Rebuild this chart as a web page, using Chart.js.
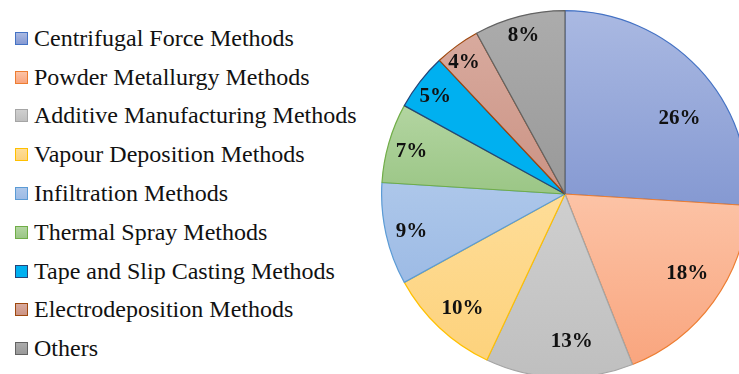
<!DOCTYPE html>
<html>
<head>
<meta charset="utf-8">
<script src="https://cdn.jsdelivr.net/npm/chart.js@4"></script>
<style>
  html, body { margin: 0; padding: 0; background: #fff; }
  body { width: 739px; height: 374px; overflow: hidden; position: relative; }
  #legend { position: absolute; left: 15px; top: 19px; font-family: "Liberation Serif", "Times New Roman", serif; font-size: 24px; color: #111; }
  #legend .row { display: flex; align-items: center; height: 38.8px; white-space: nowrap; }
  #legend .box { width: 11px; height: 11px; margin-right: 6px; border: 1px solid; }
  #pieWrap { position: absolute; left: 381px; top: 10px; width: 368px; height: 368px; }
</style>
</head>
<body>
<div id="legend"></div>
<div id="pieWrap"><canvas id="pie" width="368" height="368"></canvas></div>
<script>
// Share of fabrication methods (%)
const labels = [
  "Centrifugal Force Methods",
  "Powder Metallurgy Methods",
  "Additive Manufacturing Methods",
  "Vapour Deposition Methods",
  "Infiltration Methods",
  "Thermal Spray Methods",
  "Tape and Slip Casting Methods",
  "Electrodeposition Methods",
  "Others"
];
const shares = [26, 18, 13, 10, 9, 7, 5, 4, 8];

// light (top) / dark (bottom) fill and edge colour per slice
const fillLight = ["#aab9e2", "#fcc3a6", "#cfcfcf", "#fedd98", "#adc7ea", "#b3d5a1", "#00b0f0", "#d8aa9e", "#acacac"];
const fillDark  = ["#8599d2", "#f9a57e", "#bfbfbf", "#fdd27c", "#9dbbe5", "#9bc686", "#00b0f0", "#cb9384", "#999999"];
const edges     = ["#4472c4", "#ed7d31", "#a5a5a5", "#ffc000", "#5b9bd5", "#70ad47", "#264478", "#9e480e", "#636363"];

// where each % label sits: fraction of radius, and turn off the mid angle (deg)
const labelDist = [0.752, 0.79, 0.795, 0.83, 0.86, 0.87, 0.89, 0.91, 0.9];
const labelTurn = [9.4, -3.6, -4.5, -0.9, -0.6, -0.3, -0.5, -1.2, -0.2];

// build legend
const legendEl = document.getElementById("legend");
labels.forEach((l, i) => {
  const row = document.createElement("div");
  row.className = "row";
  const box = document.createElement("span");
  box.className = "box";
  box.style.background = "linear-gradient(" + fillLight[i] + "," + fillDark[i] + ")";
  box.style.borderColor = edges[i];
  const txt = document.createElement("span");
  txt.textContent = l;
  row.appendChild(box);
  row.appendChild(txt);
  legendEl.appendChild(row);
});

// vertical gradient across one slice's own extent
function sliceFill(ctx) {
  const i = ctx.dataIndex;
  const chart = ctx.chart;
  const a = chart.chartArea;
  if (!a) return fillLight[i];
  const cy = (a.top + a.bottom) / 2;
  const r = Math.min(a.right - a.left, a.bottom - a.top) / 2;
  const total = shares.reduce((s, v) => s + v, 0);
  let before = 0;
  for (let k = 0; k < i; k++) before += shares[k];
  const t0 = before / total * Math.PI * 2;
  const t1 = (before + shares[i]) / total * Math.PI * 2;
  const ys = [cy, cy - r * Math.cos(t0), cy - r * Math.cos(t1)];
  if (t0 <= Math.PI && t1 >= Math.PI) ys.push(cy + r);
  if (t0 <= 0) ys.push(cy - r);
  const y0 = Math.min(...ys), y1 = Math.max(...ys);
  const g = chart.ctx.createLinearGradient(0, y0, 0, y1 + 0.01);
  g.addColorStop(0, fillLight[i]);
  g.addColorStop(1, fillDark[i]);
  return g;
}

const pctLabels = {
  id: "pctLabels",
  afterDatasetsDraw(chart) {
    const c = chart.ctx;
    const meta = chart.getDatasetMeta(0);
    c.save();
    c.font = "bold 21px 'Liberation Serif', 'Times New Roman', serif";
    c.fillStyle = "#111";
    c.textAlign = "center";
    c.textBaseline = "middle";
    meta.data.forEach((arc, i) => {
      const p = arc.getProps(["x", "y", "startAngle", "endAngle", "outerRadius"], true);
      const mid = (p.startAngle + p.endAngle) / 2 + labelTurn[i] * Math.PI / 180;
      const d = p.outerRadius * labelDist[i];
      c.fillText(shares[i] + "%", p.x + Math.cos(mid) * d, p.y + Math.sin(mid) * d + 1.5);
    });
    c.restore();
  }
};

new Chart(document.getElementById("pie"), {
  type: "pie",
  data: {
    labels: labels,
    datasets: [{
      data: shares,
      backgroundColor: sliceFill,
      borderColor: edges,
      borderWidth: 1.2,
      hoverOffset: 0
    }]
  },
  options: {
    responsive: false,
    animation: false,
    layout: { padding: 0 },
    plugins: {
      legend: { display: false },
      tooltip: { enabled: false }
    }
  },
  plugins: [pctLabels]
});
</script>
</body>
</html>
